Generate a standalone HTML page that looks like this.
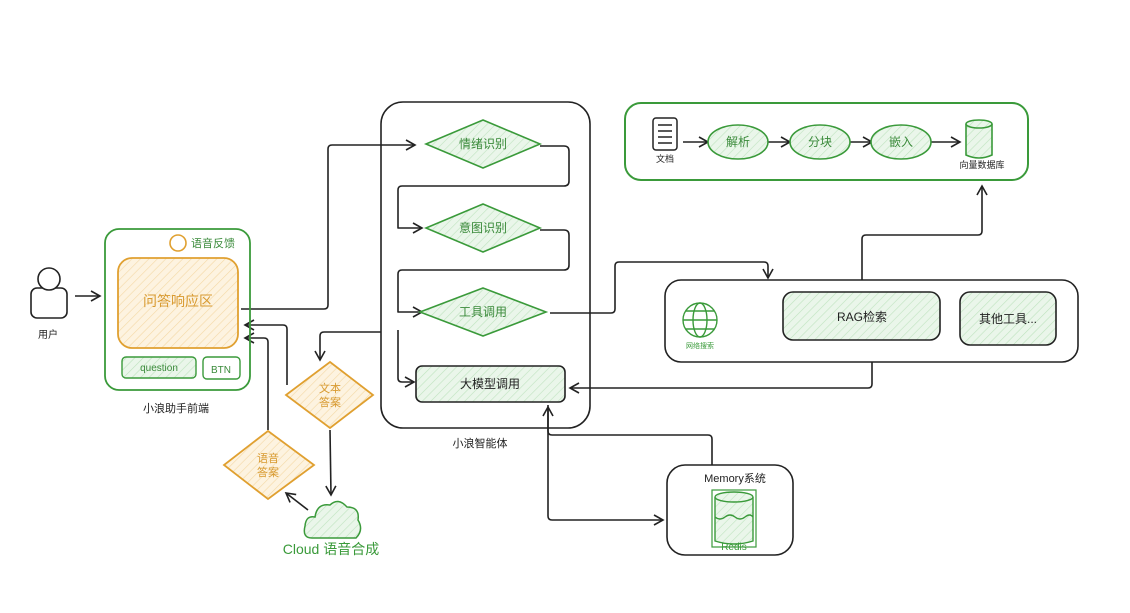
<!DOCTYPE html>
<html><head><meta charset="utf-8"><style>
body{margin:0;background:#fff;}
svg{display:block;font-family:"Liberation Sans","Noto Sans CJK SC",sans-serif;}
</style></head><body>
<svg width="1130" height="613" viewBox="0 0 1130 613" xmlns="http://www.w3.org/2000/svg">
<defs>
<pattern id="hg" width="6" height="6" patternUnits="userSpaceOnUse" patternTransform="rotate(45)"><rect width="6" height="6" fill="#eaf6ea"/><line x1="0" y1="0" x2="0" y2="6" stroke="#bfe3bf" stroke-width="1.2"/></pattern>
<pattern id="ho" width="6" height="6" patternUnits="userSpaceOnUse" patternTransform="rotate(45)"><rect width="6" height="6" fill="#fdf3e0"/><line x1="0" y1="0" x2="0" y2="6" stroke="#f4d9a6" stroke-width="1.2"/></pattern>
<marker id="a" markerWidth="12" markerHeight="12" refX="10" refY="6" orient="auto" markerUnits="userSpaceOnUse"><path d="M1,1 L10,6 L1,11" fill="none" stroke="#222" stroke-width="1.6"/></marker>
</defs>
<g fill="none" stroke="#222" stroke-width="1.6" stroke-linejoin="round">
<!-- central box -->
<rect x="381" y="102" width="209" height="326" rx="22"/>
<!-- tools box -->
<rect x="665" y="280" width="413" height="82" rx="16"/>
<!-- memory -->
<rect x="667" y="465" width="126" height="90" rx="18"/>
<!-- connectors -->
<path d="M75,296 L100,296" marker-end="url(#a)"/>
<path d="M241,309 L324,309 Q328,309 328,305 L328,149 Q328,145 332,145 L415,145" marker-end="url(#a)"/>
<path d="M540,146 L564,146 Q569,146 569,151 L569,181 Q569,186 564,186 L402,186 Q398,186 398,190 L398,228 L422,228" marker-end="url(#a)"/>
<path d="M540,230 L564,230 Q569,230 569,235 L569,265 Q569,270 564,270 L402,270 Q398,270 398,274 L398,312 L422,312" marker-end="url(#a)"/>
<path d="M550,313 L611,313 Q615,313 615,309 L615,266 Q615,262 619,262 L764,262 Q768,262 768,266 L768,278" marker-end="url(#a)"/>
<path d="M862,280 L862,239 Q862,235 866,235 L978,235 Q982,235 982,231 L982,186" marker-end="url(#a)"/>
<path d="M872,362 L872,384 Q872,388 868,388 L570,388" marker-end="url(#a)"/>
<path d="M548,405 L548,516 Q548,520 552,520 L663,520" marker-end="url(#a)"/>
<path d="M712,465 L712,439 Q712,435 708,435 L552,435 Q548,435 548,431 L548,407" marker-end="url(#a)"/>
<path d="M398,330 L398,378 Q398,382 402,382 L414,382" marker-end="url(#a)"/>
<path d="M381,332 L324,332 Q320,332 320,336 L320,360" marker-end="url(#a)"/>
<path d="M287,385 L287,329 Q287,325 283,325 L245,325" marker-end="url(#a)"/>
<path d="M268,430 L268,342 Q268,338 264,338 L245,338" marker-end="url(#a)"/>
<path d="M330,430 L331,495" marker-end="url(#a)"/>
<path d="M308,510 L286,493" marker-end="url(#a)"/>
<!-- knowledge arrows -->
<path d="M683,142 L708,142" marker-end="url(#a)"/>
<path d="M768,142 L790,142" marker-end="url(#a)"/>
<path d="M850,142 L872,142" marker-end="url(#a)"/>
<path d="M931,142 L960,142" marker-end="url(#a)"/>
</g>
<!-- knowledge box -->
<rect x="625" y="103" width="403" height="77" rx="16" fill="none" stroke="#3a9a3a" stroke-width="2"/>
<g stroke="#222" stroke-width="1.5" fill="#fff">
<rect x="653" y="118" width="24" height="32" rx="3"/>
<path d="M658,125 H672 M658,131 H672 M658,137 H672 M658,143 H672" fill="none"/>
</g>
<g stroke="#3a9a3a" stroke-width="1.6" fill="url(#hg)">
<ellipse cx="738" cy="142" rx="30" ry="17"/>
<ellipse cx="820" cy="142" rx="30" ry="17"/>
<ellipse cx="901" cy="142" rx="30" ry="17"/>
<path d="M966,124 V155 Q979,161 992,155 V124"/>
<ellipse cx="979" cy="124" rx="13" ry="4"/>
</g>
<g font-size="12" fill="#3a8a3a" text-anchor="middle">
<text x="738" y="146">解析</text><text x="820" y="146">分块</text><text x="901" y="146">嵌入</text>
</g>
<g font-size="9" fill="#222" text-anchor="middle">
<text x="665" y="162">文档</text><text x="982" y="168">向量数据库</text>
</g>
<!-- diamonds in agent -->
<g stroke="#3a9a3a" stroke-width="1.6" fill="url(#hg)">
<path d="M483,120 L540,144 L483,168 L426,144 Z"/>
<path d="M483,204 L540,228 L483,252 L426,228 Z"/>
<path d="M483,288 L546,312 L483,336 L420,312 Z"/>
</g>
<rect x="416" y="366" width="149" height="36" rx="6" fill="url(#hg)" stroke="#222" stroke-width="1.6"/>
<g font-size="12" fill="#3a8a3a" text-anchor="middle">
<text x="483" y="148">情绪识别</text><text x="483" y="232">意图识别</text><text x="483" y="316">工具调用</text>
</g>
<text x="490" y="388" font-size="12" fill="#222" text-anchor="middle">大模型调用</text>
<text x="480" y="447" font-size="11" fill="#222" text-anchor="middle">小浪智能体</text>
<!-- tools -->
<rect x="783" y="292" width="157" height="48" rx="10" fill="url(#hg)" stroke="#222" stroke-width="1.6"/>
<rect x="960" y="292" width="96" height="53" rx="10" fill="url(#hg)" stroke="#222" stroke-width="1.6"/>
<text x="862" y="321" font-size="12" fill="#222" text-anchor="middle">RAG检索</text>
<text x="1008" y="323" font-size="12" fill="#222" text-anchor="middle">其他工具...</text>
<g stroke="#3a9a3a" stroke-width="1.4" fill="none">
<circle cx="700" cy="320" r="17"/><ellipse cx="700" cy="320" rx="7" ry="17"/>
<path d="M683,320 H717 M686,311 H714 M686,329 H714"/>
</g>
<text x="700" y="348" font-size="7" fill="#3a9a3a" text-anchor="middle">网络搜索</text>
<!-- memory -->
<text x="735" y="482" font-size="11" fill="#222" text-anchor="middle">Memory系统</text>
<rect x="712" y="490" width="44" height="57" fill="none" stroke="#3a9a3a" stroke-width="1.2"/>
<g stroke="#3a9a3a" stroke-width="1.4" fill="url(#hg)">
<path d="M715,497 V541 Q734,547 753,541 V497"/><ellipse cx="734" cy="497" rx="19" ry="5"/>
<path d="M715,517 q5,4 10,0 t10,0 t10,0 t8,0" fill="none"/>
</g>
<text x="734" y="550" font-size="10" fill="#3a9a3a" text-anchor="middle">Redis</text>
<!-- user -->
<g stroke="#222" stroke-width="1.6" fill="#fff">
<rect x="31" y="288" width="36" height="30" rx="6"/>
<circle cx="49" cy="279" r="11"/>
</g>
<text x="48" y="338" font-size="10" fill="#222" text-anchor="middle">用户</text>
<!-- frontend -->
<rect x="105" y="229" width="145" height="161" rx="14" fill="none" stroke="#3a9a3a" stroke-width="1.8"/>
<circle cx="178" cy="243" r="8" fill="none" stroke="#e0a030" stroke-width="1.6"/>
<text x="213" y="247" font-size="11" fill="#3a8a3a" text-anchor="middle">语音反馈</text>
<rect x="118" y="258" width="120" height="90" rx="14" fill="url(#ho)" stroke="#e0a030" stroke-width="1.8"/>
<text x="178" y="306" font-size="14" fill="#d89a30" text-anchor="middle">问答响应区</text>
<rect x="122" y="357" width="74" height="21" rx="4" fill="url(#hg)" stroke="#3a9a3a" stroke-width="1.4"/>
<rect x="203" y="357" width="37" height="22" rx="4" fill="#fff" stroke="#3a9a3a" stroke-width="1.4"/>
<text x="159" y="371" font-size="10" fill="#3a8a3a" text-anchor="middle">question</text>
<text x="221" y="373" font-size="10" fill="#3a8a3a" text-anchor="middle">BTN</text>
<text x="176" y="412" font-size="11" fill="#222" text-anchor="middle">小浪助手前端</text>
<!-- answer diamonds -->
<g stroke="#e0a030" stroke-width="1.8" fill="url(#ho)">
<path d="M330,362 L373,395 L330,428 L286,395 Z"/>
<path d="M268,431 L314,465 L268,499 L224,465 Z"/>
</g>
<g font-size="11" fill="#d89a30" text-anchor="middle">
<text x="330" y="392">文本</text><text x="330" y="406">答案</text>
<text x="268" y="462">语音</text><text x="268" y="476">答案</text>
</g>
<!-- cloud -->
<path d="M312,538 Q302,538 305,526 Q306,515 315,517 Q317,503 330,505 Q338,497 347,507 Q360,507 358,520 Q364,530 356,538 Z" fill="url(#hg)" stroke="#3a9a3a" stroke-width="1.5"/>
<text x="331" y="554" font-size="14" fill="#3a9a3a" text-anchor="middle">Cloud 语音合成</text>
</svg>
</body></html>
